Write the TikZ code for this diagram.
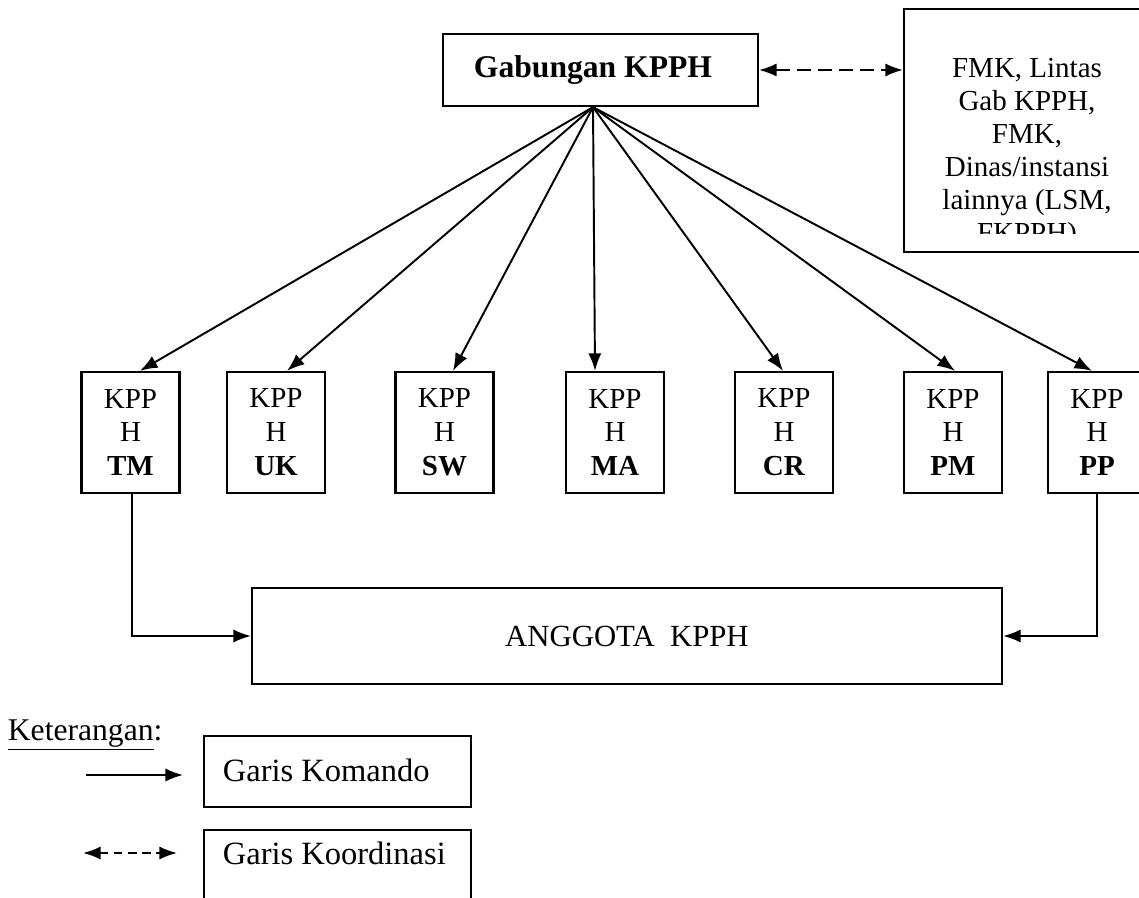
\documentclass[tikz,border=0pt]{standalone}
\usepackage{fontspec}
\setmainfont{Liberation Serif}
\usetikzlibrary{positioning,arrows.meta,calc}

\begin{document}
\begin{tikzpicture}[
    x=0.02cm,
    y=-0.02cm,
    line width=1pt,
    kotak/.style={
        draw,
        line width=1.3pt,
        inner sep=0pt,
        align=center
    },
    kpph/.style={kotak, minimum width=1.96cm, minimum height=2.42cm,
        font=\fontsize{16.5pt}{19.3pt}\selectfont},
    gabung/.style={kotak, minimum width=6.3cm, minimum height=1.44cm,
        font=\bfseries\fontsize{18pt}{21pt}\selectfont},
    legenda/.style={kotak, minimum width=5.34cm},
    legtext/.style={anchor=west, inner sep=0pt,
        font=\fontsize{18.5pt}{22pt}\selectfont},
    komando/.style={-{Latex[length=10pt,width=7.5pt]}, line width=1.1pt},
    koordinasi/.style={{Latex[length=10pt,width=7.5pt]}-{Latex[length=10pt,width=7.5pt]},
        line width=1.1pt, dash pattern=on 8pt off 4pt}
]
\clip (0,0) rectangle (1139,898);

% ============================================================
% GABUNGAN KPPH DAN MITRA
% ============================================================
\node[gabung] (gab) at (600.5,70) {Gabungan KPPH\hspace*{0.3cm}};
\node[kotak, minimum width=4.92cm, minimum height=4.86cm] (fmk) at (1027,130.5) {};
\begin{scope}
    \clip (fmk.north west) rectangle (1139,234);
    \node[align=center, inner sep=0pt, font=\fontsize{16.5pt}{18.8pt}\selectfont]
        (fmktxt) at (1027,153.5)
        {FMK, Lintas\\Gab KPPH,\\FMK,\\Dinas/instansi\\lainnya (LSM,\\FKPPH)};
\end{scope}

\draw[koordinasi] (gab.east) -- (gab.east -| fmk.west);

% ============================================================
% KPPH
% ============================================================
\node[kpph] (tm) at (130.5,432.5) {KPP\\H\\\textbf{TM}};
\node[kpph] (uk) at (276,432.5) {KPP\\H\\\textbf{UK}};
\node[kpph] (sw) at (444.5,432.5) {KPP\\H\\\textbf{SW}};
\node[kpph] (ma) at (615,432.5) {KPP\\H\\\textbf{MA}};
\node[kpph] (cr) at (784,432.5) {KPP\\H\\\textbf{CR}};
\node[kpph] (pm) at (953,432.5) {KPP\\H\\\textbf{PM}};
\node[kpph] (pp) at (1097,432.5) {KPP\\H\\\textbf{PP}};

\coordinate (pusat) at ([xshift=-0.15cm]gab.south);
\draw[komando] (pusat) -- ([xshift=0.19cm]tm.north);
\draw[komando] (pusat) -- ([xshift=0.22cm]uk.north);
\draw[komando] (pusat) -- ([xshift=0.17cm]sw.north);
\draw[komando] (pusat) -- ([xshift=-0.4cm]ma.north);
\draw[komando] (pusat) -- ([xshift=-0.02cm]cr.north);
\draw[komando] (pusat) -- ([xshift=0.04cm]pm.north);
\draw[komando] (pusat) -- ([xshift=-0.1cm]pp.north);

% ============================================================
% ANGGOTA
% ============================================================
\node[kotak, minimum width=15cm, minimum height=1.92cm,
      font=\fontsize{17.5pt}{21pt}\selectfont] (anggota) at (627,636) {ANGGOTA\ \ KPPH};

\draw[komando] ([xshift=0.03cm]tm.south) |- (anggota.west);
\draw[komando] (pp.south) |- (anggota.east);

% ============================================================
% KETERANGAN
% ============================================================
\node[anchor=base west, inner sep=0pt, font=\fontsize{18pt}{21pt}\selectfont]
    (ket) at (7,740) {\underline{Keterangan}:};

\node[legenda, minimum height=1.42cm] (kmd) at (337.5,771.5) {};
\node[legtext] (kmdtxt) at (222,770) {Garis Komando};
\coordinate (kmdA) at (86,775);
\coordinate (kmdB) at (183,775);
\draw[komando] (kmdA) -- (kmdB);

\node[legenda, minimum height=1.6cm] (krd) at (337.5,870) {};
\node[legtext] (krdtxt) at (222,853) {Garis Koordinasi};
\coordinate (krdA) at (83,853);
\coordinate (krdB) at (177,853);
\draw[koordinasi, dash pattern=on 5pt off 3pt] (krdA) -- (krdB);

\end{tikzpicture}
\end{document}
